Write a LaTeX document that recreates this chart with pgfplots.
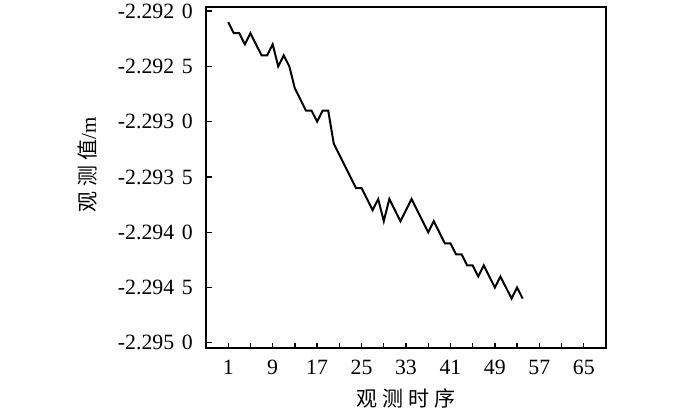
\documentclass[border=0pt]{standalone}
\usepackage{pgfplots}
\pgfplotsset{compat=1.18}
\usepackage{fontspec}
\setmainfont{Liberation Serif}
\newfontfamily\cjk{Noto Sans CJK SC}
\newcommand{\cs}{\hspace{2.5pt}}
\newcommand{\gs}{\hspace{0.35em}}

\begin{document}
\begin{tikzpicture}
\begin{axis}[
  name=ax,
  scale only axis,
  width=200pt, height=170.8pt,
  xmin=-3, xmax=69,
  ymin=-2.29505, ymax=-2.29196,
  axis line style={line width=0.9pt},
  tick align=inside,
  xtick pos=bottom, ytick pos=left,
  major tick length=2.8pt,
  tick style={line width=0.7pt, black},
  xtick={1,5,...,65},
  xticklabels={1,,9,,17,,25,,33,,41,,49,,57,,65},
  ytick={-2.2950,-2.2945,-2.2940,-2.2935,-2.2930,-2.2925,-2.2920},
  yticklabels={-2.295\gs0,-2.294\gs5,-2.294\gs0,-2.293\gs5,-2.293\gs0,-2.292\gs5,-2.292\gs0},
  tick label style={font=\fontsize{10.9}{12}\selectfont},
  xticklabel style={yshift=-2.3pt},
  yticklabel style={xshift=-3.1pt},
  xlabel={\cjk 观\cs 测\cs 时\cs 序},
  ylabel={\cjk 观\cs 测\cs 值\rmfamily /m},
  label style={font=\fontsize{10.5}{12}\selectfont},
  xlabel style={at={(axis description cs:0.5,-0.1455)}, anchor=center},
  ylabel style={at={(axis description cs:-0.295,0.537)}, anchor=center},
]
\addplot[black, line width=1pt, mark=none] table {
x y
1 -2.2921
2 -2.2922
3 -2.2922
4 -2.2923
5 -2.2922
6 -2.2923
7 -2.2924
8 -2.2924
9 -2.2923
10 -2.2925
11 -2.2924
12 -2.2925
13 -2.2927
14 -2.2928
15 -2.2929
16 -2.2929
17 -2.2930
18 -2.2929
19 -2.2929
20 -2.2932
21 -2.2933
22 -2.2934
23 -2.2935
24 -2.2936
25 -2.2936
26 -2.2937
27 -2.2938
28 -2.2937
29 -2.2939
30 -2.2937
31 -2.2938
32 -2.2939
33 -2.2938
34 -2.2937
35 -2.2938
36 -2.2939
37 -2.2940
38 -2.2939
39 -2.2940
40 -2.2941
41 -2.2941
42 -2.2942
43 -2.2942
44 -2.2943
45 -2.2943
46 -2.2944
47 -2.2943
48 -2.2944
49 -2.2945
50 -2.2944
51 -2.2945
52 -2.2946
53 -2.2945
54 -2.2946
};
\end{axis}
\pgfresetboundingbox
\path (ax.south west) ++(-103pt,-32.35pt) coordinate (bl);
\path (ax.north east) ++(47pt,3.35pt) coordinate (tr);
\path[use as bounding box] (bl) rectangle (tr);
\end{tikzpicture}
\end{document}
